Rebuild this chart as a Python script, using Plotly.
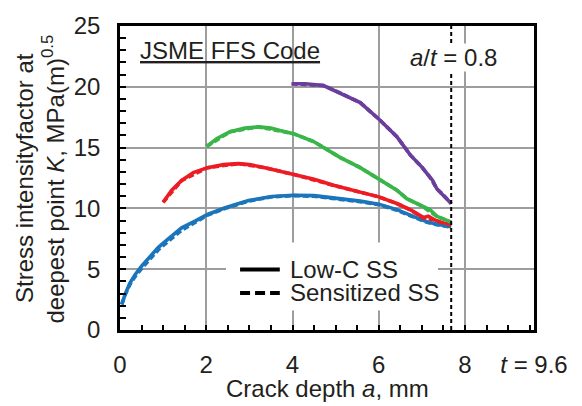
import plotly.graph_objects as go

# ---------------- data ----------------
T_THICK = 9.6          # wall thickness t, mm
AT_LIMIT = 0.8         # a/t limit

# Low-C SS (solid)
blue_a = [0.04, 0.12, 0.23, 0.35, 0.5, 0.66, 0.89, 1.12, 1.43, 1.74, 2.03, 2.44, 2.98, 3.52, 4.02, 4.5, 5.0, 5.57, 6.0, 6.42, 6.8, 7.12, 7.35, 7.68]
blue_k = [2.1, 2.95, 3.85, 4.55, 5.25, 5.9, 6.8, 7.5, 8.4, 8.95, 9.5, 10.05, 10.65, 10.98, 11.08, 11.05, 10.85, 10.6, 10.35, 9.9, 9.35, 8.9, 8.7, 8.5]

red_a = [1.0, 1.2, 1.43, 1.7, 2.03, 2.4, 2.75, 3.0, 3.36, 3.7, 4.02, 4.5, 4.95, 5.57, 6.0, 6.42, 6.73, 7.04, 7.15, 7.27, 7.45, 7.68]
red_k = [10.5, 11.5, 12.3, 12.95, 13.35, 13.6, 13.68, 13.6, 13.35, 13.05, 12.8, 12.4, 11.9, 11.35, 10.95, 10.4, 9.9, 9.25, 9.35, 9.1, 8.85, 8.65]

green_a = [2.01, 2.25, 2.55, 2.9, 3.21, 3.5, 3.71, 4.02, 4.49, 5.1, 5.57, 6.0, 6.42, 6.65, 7.0, 7.19, 7.35, 7.68]
green_k = [15.1, 15.75, 16.3, 16.6, 16.7, 16.6, 16.4, 16.15, 15.5, 14.2, 13.35, 12.4, 11.5, 10.8, 10.2, 9.88, 9.35, 8.87]

purple_a = [3.98, 4.3, 4.72, 5.1, 5.57, 6.0, 6.42, 6.73, 7.0, 7.19, 7.25, 7.35, 7.5, 7.68]
purple_k = [20.25, 20.25, 20.1, 19.5, 18.7, 17.35, 15.9, 14.4, 13.4, 12.55, 12.3, 11.6, 11.1, 10.4]

# Sensitized SS (dashed)
blue_s_a = [0.04, 0.12, 0.23, 0.35, 0.5, 0.66, 0.89, 1.12, 1.43, 1.74, 2.03, 2.44, 2.98, 3.52, 4.02, 4.5, 5.0, 5.57, 6.0, 6.42, 6.8, 7.12, 7.35, 7.68]
blue_s_k = [2.1, 2.9, 3.75, 4.4, 5.05, 5.7, 6.6, 7.3, 8.2, 8.85, 9.45, 10.0, 10.6, 10.95, 11.05, 11.0, 10.8, 10.55, 10.3, 9.85, 9.3, 8.85, 8.65, 8.45]

red_s_a = [1.0, 1.43, 2.03, 2.75, 3.36, 4.02, 4.95, 5.57, 6.0, 6.42, 6.73, 7.04, 7.27, 7.45, 7.68]
red_s_k = [10.5, 12.3, 13.35, 13.68, 13.35, 12.8, 11.9, 11.35, 10.95, 10.4, 9.88, 9.2, 9.08, 8.83, 8.63]

green_s_a = [2.01, 2.55, 3.21, 3.71, 4.02, 4.49, 5.1, 5.57, 6.0, 6.42, 6.65, 7.0, 7.35, 7.68]
green_s_k = [15.1, 16.3, 16.7, 16.4, 16.15, 15.5, 14.2, 13.35, 12.4, 11.5, 10.8, 10.2, 9.33, 8.86]

purple_s_a = [3.98, 4.72, 5.1, 5.57, 6.0, 6.42, 6.73, 7.0, 7.19, 7.35, 7.5, 7.68]
purple_s_k = [20.25, 20.1, 19.5, 18.7, 17.35, 15.9, 14.4, 13.4, 12.55, 11.6, 11.1, 10.4]

x_tickvals = [0, 2, 4, 6, 8, T_THICK]
x_ticktext = ["0", "2", "4", "6", "8", "<i>t</i> = 9.6"]
y_tickvals = [0, 5, 10, 15, 20, 25]

# ---------------- style ----------------
FONT = "Liberation Sans, Arial, sans-serif"
TXT = "#231f20"
BLUE, RED, GREEN, PURPLE = "#1b75bb", "#ed1c24", "#39b54a", "#6a3e9c"
LW = 3.6

fig = go.Figure()
solid = [(blue_a, blue_k, BLUE), (red_a, red_k, RED), (green_a, green_k, GREEN), (purple_a, purple_k, PURPLE)]
dashed = [(blue_s_a, blue_s_k, BLUE), (red_s_a, red_s_k, RED), (green_s_a, green_s_k, GREEN), (purple_s_a, purple_s_k, PURPLE)]
for a, k, c in solid:
    fig.add_trace(go.Scatter(x=a, y=k, mode="lines", line=dict(color=c, width=LW),
                             showlegend=False, hoverinfo="skip"))
for a, k, c in dashed:
    fig.add_trace(go.Scatter(x=a, y=k, mode="lines", line=dict(color=c, width=LW, dash="6px,3px"),
                             showlegend=False, hoverinfo="skip"))

# a/t = 0.8 line
x_lim = AT_LIMIT * T_THICK
fig.add_shape(type="line", xref="x", yref="paper", x0=x_lim, x1=x_lim, y0=0, y1=1,
              line=dict(color="black", width=2, dash="4px,3px"), layer="above")

# manual legend
fig.add_shape(type="rect", xref="paper", yref="paper", x0=0.256, x1=0.768, y0=0.064, y1=0.288,
              fillcolor="white", line=dict(width=0), layer="above")
fig.add_shape(type="line", xref="paper", yref="paper", x0=0.290, x1=0.386, y0=0.1987, y1=0.1987,
              line=dict(color="black", width=4), layer="above")
fig.add_shape(type="line", xref="paper", yref="paper", x0=0.290, x1=0.386, y0=0.1218, y1=0.1218,
              line=dict(color="black", width=4, dash="10px,5px"), layer="above")

ann_font = dict(family=FONT, size=24, color=TXT)
fig.add_annotation(text="Low-C SS", xref="paper", yref="paper", x=0.406, y=0.1987,
                   xanchor="left", yanchor="middle", showarrow=False, font=ann_font)
fig.add_annotation(text="Sensitized SS", xref="paper", yref="paper", x=0.406, y=0.1218,
                   xanchor="left", yanchor="middle", showarrow=False, font=ann_font)
fig.add_annotation(text="<u>JSME FFS Code</u>", xref="paper", yref="paper", x=0.0435, y=0.92,
                   xanchor="left", yanchor="middle", showarrow=False, font=ann_font)
fig.add_annotation(text="<i>a</i>/<i>t</i> = 0.8", xref="paper", yref="paper", x=0.8056, y=0.897,
                   xanchor="center", yanchor="middle", showarrow=False, font=ann_font,
                   bgcolor="white", borderpad=0)
# axis titles
fig.add_annotation(text="Crack depth <i>a</i>, mm", xref="paper", yref="paper", x=0.5, y=-0.192,
                   xanchor="center", yanchor="middle", showarrow=False, font=ann_font)
fig.add_annotation(text="Stress intensityfactor at", xref="paper", yref="paper", x=-0.2319, y=0.5,
                   xanchor="center", yanchor="middle", showarrow=False, font=ann_font, textangle=-90)
fig.add_annotation(text="deepest point <i>K</i>, MPa(m)<sup>0.5</sup>", xref="paper", yref="paper",
                   x=-0.1618, y=0.495, xanchor="center", yanchor="middle", showarrow=False,
                   font=ann_font, textangle=-90)

axis_common = dict(showline=True, linecolor="black", linewidth=2.5, mirror=True,
                   showgrid=True, gridcolor="#9d9d9d", gridwidth=1.6, zeroline=False,
                   ticks="inside", tickcolor="black", tickwidth=2,
                   tickfont=dict(family=FONT, size=24, color=TXT))
fig.update_xaxes(range=[0, T_THICK], tickmode="array", tickvals=x_tickvals, ticktext=x_ticktext,
                 ticklen=5, ticklabelstandoff=11,
                 minor=dict(tickmode="linear", tick0=0, dtick=0.5, ticks="inside", ticklen=5,
                            tickcolor="black", tickwidth=2, showgrid=False),
                 **axis_common)
fig.update_yaxes(range=[0, 25], tickmode="array", tickvals=y_tickvals,
                 ticklen=6, ticklabelstandoff=12,
                 minor=dict(tickmode="linear", tick0=0, dtick=1, ticks="inside", ticklen=6,
                            tickcolor="black", tickwidth=2, showgrid=False),
                 **axis_common)

fig.update_layout(width=582, height=406, margin=dict(l=120, r=48, t=18, b=76),
                  paper_bgcolor="white", plot_bgcolor="white", showlegend=False,
                  font=dict(family=FONT, color=TXT))
fig.write_html("out.html", config={"displayModeBar": False},
               post_script="document.body.style.margin='0';document.body.style.overflow='hidden';")
